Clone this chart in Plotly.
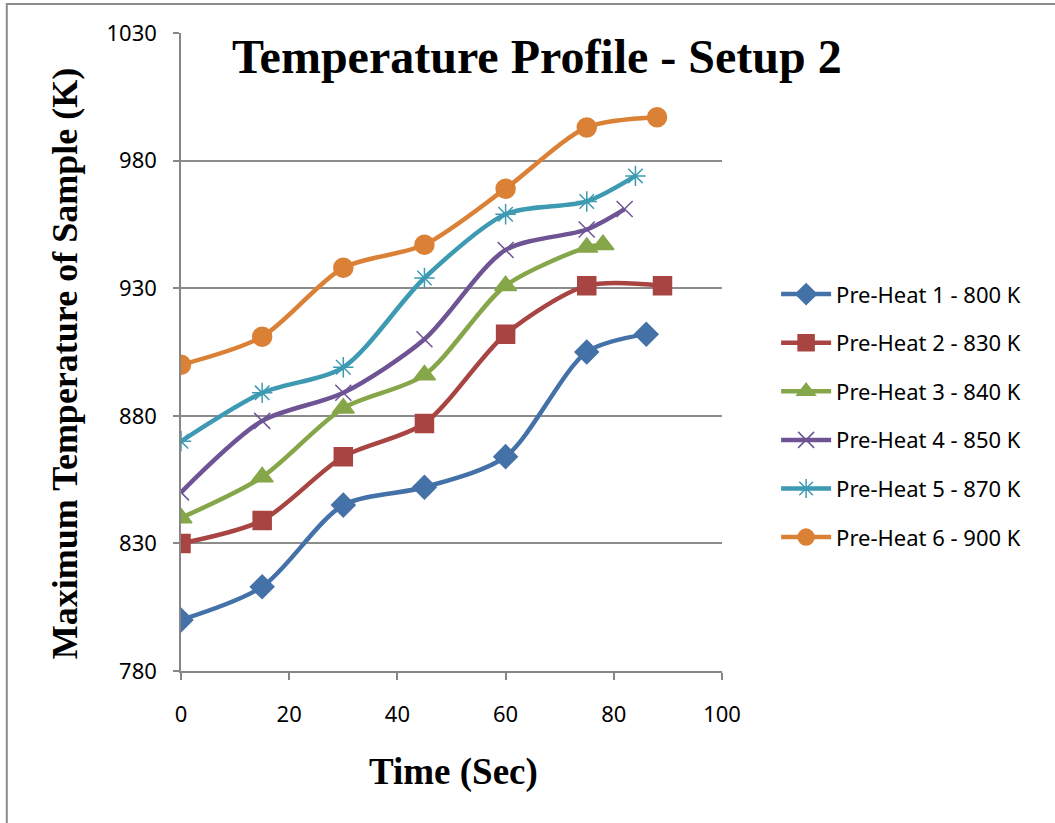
import plotly.graph_objects as go

# Time stamps (s) and peak sample temperature (K) for each pre-heat condition
time_ph1 = [0, 15, 30, 45, 60, 75, 86]
temp_ph1 = [800, 813, 845, 852, 864, 905, 912]

time_ph2 = [0, 15, 30, 45, 60, 75, 89]
temp_ph2 = [830, 839, 864, 877, 912, 931, 931]

time_ph3 = [0, 15, 30, 45, 60, 75, 78]
temp_ph3 = [840, 856, 883, 896, 931, 946, 947]

time_ph4 = [0, 15, 30, 45, 60, 75, 82]
temp_ph4 = [850, 878, 889, 910, 945, 953, 961]

time_ph5 = [0, 15, 30, 45, 60, 75, 84]
temp_ph5 = [870, 889, 899, 934, 959, 964, 974]

time_ph6 = [0, 15, 30, 45, 60, 75, 88]
temp_ph6 = [900, 911, 938, 947, 969, 993, 997]

names = ["Pre-Heat 1 - 800 K", "Pre-Heat 2 - 830 K", "Pre-Heat 3 - 840 K",
         "Pre-Heat 4 - 850 K", "Pre-Heat 5 - 870 K", "Pre-Heat 6 - 900 K"]
colors = ["#4472A8", "#A84442", "#86A64A", "#6E5494", "#3D9AB2", "#DB8136"]
symbols = ["diamond", "square", "triangle-up", "x-thin-open", "asterisk-open", "circle"]
sizes = [18, 18, 19, 16, 17, 19]

xs = [time_ph1, time_ph2, time_ph3, time_ph4, time_ph5, time_ph6]
ys = [temp_ph1, temp_ph2, temp_ph3, temp_ph4, temp_ph5, temp_ph6]

fig = go.Figure()
for i, (x, y, n, c, s, sz) in enumerate(zip(xs, ys, names, colors, symbols, sizes)):
    fig.add_trace(go.Scatter(
        x=x, y=y, name=n, mode="lines+markers", legendgroup=f"g{i}",
        line=dict(color=c, width=4.5, shape="spline", smoothing=0.8),
        marker=dict(symbol=s, size=sz, color=c, line=dict(color=c, width=1.5)),
    ))

fig.update_layout(
    width=1055, height=823,
    margin=dict(l=181, r=333, t=33, b=152),
    paper_bgcolor="white", plot_bgcolor="white",
    showlegend=True,
    legend=dict(x=1.1, y=0.40, xanchor="left", yanchor="middle",
                font=dict(family="Noto Sans", size=22, color="black"),
                tracegroupgap=17, itemsizing="trace", itemwidth=50),
    font=dict(family="Noto Sans", color="black"),
)

fig.update_xaxes(
    range=[0, 100], dtick=20, tick0=0,
    showline=True, linecolor="#868686", linewidth=1.5,
    ticks="outside", ticklen=7, tickcolor="#868686", tickwidth=1.5,
    ticklabelstandoff=16,
    showgrid=False, zeroline=False,
    tickfont=dict(family="Noto Sans", size=22, color="black"),
)
fig.update_yaxes(
    range=[780, 1030], dtick=50, tick0=780,
    showline=True, linecolor="#868686", linewidth=1.5,
    ticks="outside", ticklen=6, tickcolor="#868686", tickwidth=1.5,
    ticklabelstandoff=12,
    showgrid=True, gridcolor="#8c8c8c", gridwidth=1.5, zeroline=False,
    tickfont=dict(family="Noto Sans", size=22, color="black"),
)

# axis titles
fig.add_annotation(
    text="<b>Time (Sec)</b>", xref="paper", yref="paper", x=0.503, y=-0.158,
    xanchor="center", yanchor="middle", showarrow=False,
    font=dict(family="Liberation Serif", size=37, color="black"),
)
fig.add_annotation(
    text="<b>Maximum Temperature of Sample (K)</b>", xref="paper", yref="paper",
    x=-0.2144, y=0.481, xanchor="center", yanchor="middle", textangle=-90,
    showarrow=False, font=dict(family="Liberation Serif", size=36, color="black"),
)

fig.add_annotation(
    text="<b>Temperature Profile - Setup 2</b>",
    xref="paper", yref="paper", x=0.658, y=1.008, xanchor="center", yanchor="top",
    showarrow=False, font=dict(family="Liberation Serif", size=48, color="black"),
)

# outer chart frame
fig.add_shape(type="rect", xref="paper", yref="paper",
              x0=-0.322, y0=-0.4, x1=1.8, y1=1.0455,
              line=dict(color="#8c8c8c", width=2), fillcolor="rgba(0,0,0,0)", layer="below")

fig.write_html("out.html")
